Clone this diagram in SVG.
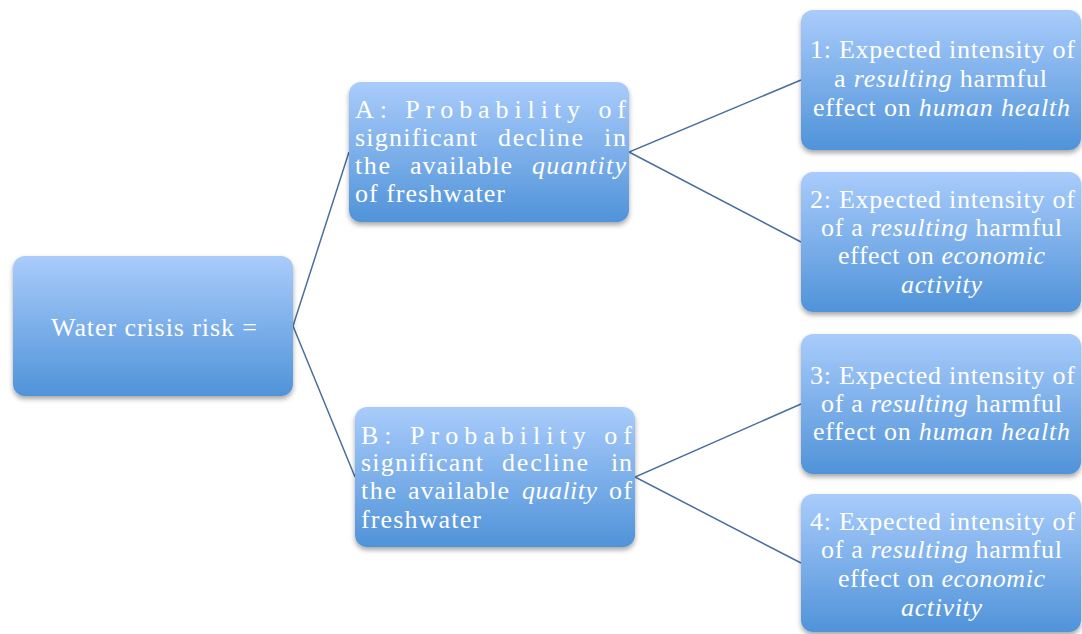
<svg xmlns="http://www.w3.org/2000/svg" width="1082" height="634" viewBox="0 0 1082 634">
<defs>
<linearGradient id="g" x1="0" y1="0" x2="0" y2="1">
<stop offset="0" stop-color="#a9ccfb"/>
<stop offset="1" stop-color="#5093d9"/>
</linearGradient>
<filter id="sh" x="-10%" y="-10%" width="120%" height="130%">
<feDropShadow dx="0" dy="3" stdDeviation="2.5" flood-color="#000" flood-opacity="0.35"/>
</filter>
</defs>
<style>
.box{fill:url(#g);filter:url(#sh)}
text{font-family:"Liberation Serif","DejaVu Serif",serif;font-size:26px;fill:#ffffff}
.c{text-anchor:middle}
.e{text-anchor:end}
.i{font-style:italic}
.ln{stroke:#4a6f9c;stroke-width:1.5;fill:none}
</style>
<rect width="1082" height="634" fill="#ffffff"/>
<g id="connectors">
<polyline class="ln" points="349,152 293,326 355,477"/>
<polyline class="ln" points="801,80 629,152 801,242"/>
<polyline class="ln" points="801,404 635,477 801,563"/>
</g>
<g id="root">
<rect class="box" x="13" y="256" width="280" height="140" rx="12"/>
<text x="51" y="336" textLength="206" lengthAdjust="spacing">Water crisis risk =</text>
</g>
<g id="nodeA">
<rect class="box" x="349" y="82" width="280" height="140" rx="12"/>
<text x="355" y="118" textLength="271" lengthAdjust="spacing">A: Probability of</text>
<text x="355" y="146" textLength="122">significant</text><text x="498" y="146" textLength="85">decline</text><text x="604" y="146" textLength="22">in</text>
<text x="355" y="174" textLength="35">the</text><text x="410" y="174" textLength="102">available</text><text class="i" x="532" y="174" textLength="94">quantity</text>
<text x="355" y="202" textLength="150">of freshwater</text>
</g>
<g id="nodeB">
<rect class="box" x="355" y="407" width="280" height="140" rx="12"/>
<text x="361" y="444" textLength="271" lengthAdjust="spacing">B: Probability of</text>
<text x="361" y="471" textLength="122">significant</text><text x="502" y="471" textLength="86">decline</text><text x="611" y="471" textLength="21">in</text>
<text x="361" y="499" textLength="35">the</text><text x="408" y="499" textLength="101">available</text><text class="i" x="522" y="499" textLength="75">quality</text><text x="609" y="499" textLength="23">of</text>
<text x="361" y="528" textLength="120">freshwater</text>
</g>
<g id="node1">
<rect class="box" x="801" y="10" width="280" height="140" rx="12"/>
<text x="810" y="58" textLength="265">1: Expected intensity of</text>
<text x="834" y="87" textLength="213">a <tspan class="i">resulting</tspan> harmful</text>
<text x="813" y="116" textLength="257">effect on <tspan class="i">human health</tspan></text>
</g>
<g id="node2">
<rect class="box" x="801" y="172" width="280" height="140" rx="12"/>
<text x="810" y="208" textLength="265">2: Expected intensity of</text>
<text x="821" y="236" textLength="241">of a <tspan class="i">resulting</tspan> harmful</text>
<text x="838" y="264" textLength="207">effect on <tspan class="i">economic</tspan></text>
<text class="i" x="901" y="293" textLength="81">activity</text>
</g>
<g id="node3">
<rect class="box" x="801" y="334" width="280" height="140" rx="12"/>
<text x="810" y="384" textLength="265">3: Expected intensity of</text>
<text x="821" y="412" textLength="241">of a <tspan class="i">resulting</tspan> harmful</text>
<text x="813" y="440" textLength="257">effect on <tspan class="i">human health</tspan></text>
</g>
<g id="node4">
<rect class="box" x="801" y="494" width="280" height="138" rx="12"/>
<text x="810" y="530" textLength="265">4: Expected intensity of</text>
<text x="821" y="558" textLength="241">of a <tspan class="i">resulting</tspan> harmful</text>
<text x="838" y="587" textLength="207">effect on <tspan class="i">economic</tspan></text>
<text class="i" x="901" y="616" textLength="81">activity</text>
</g>
</svg>
